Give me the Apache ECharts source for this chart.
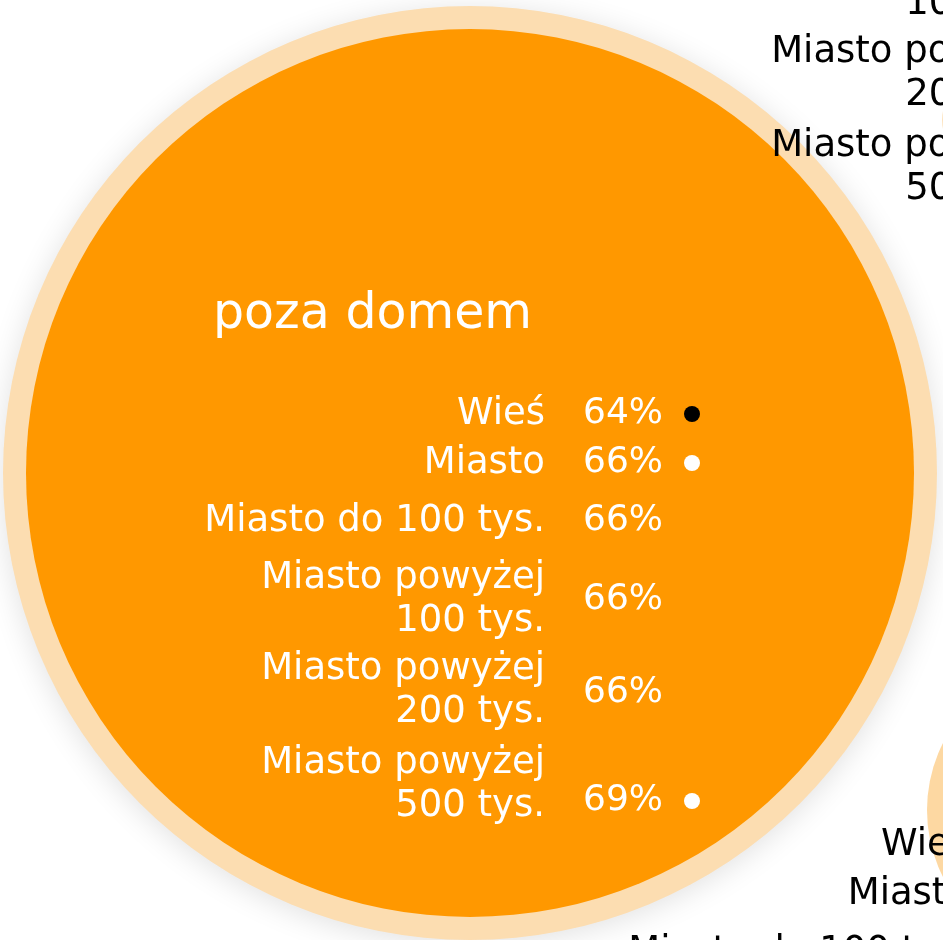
<!DOCTYPE html>
<html>
<head>
<meta charset="utf-8">
<script src="https://cdn.jsdelivr.net/npm/echarts@6/dist/echarts.min.js"></script>
<style>
  html, body { margin: 0; padding: 0; background: #fff; }
  #chart { width: 943px; height: 940px; }
</style>
</head>
<body>
<div id="chart"></div>
<script>
// dane
var title = 'poza domem';
var categories = ['Wieś', 'Miasto', 'Miasto do 100 tys.', 'Miasto powyżej\n100 tys.', 'Miasto powyżej\n200 tys.', 'Miasto powyżej\n500 tys.'];
var values = [64, 66, 66, 66, 66, 69];
var markers = ['dark', 'light', '', '', '', 'light'];
var bubbles = ['poza domem', 'w domu', 'inne'];

// uklad (pozycje wierszy)
var labelY = [414, 463, 521, 600, 691, 785];
var valueY = [414, 463, 521, 600, 693, 801];
var FONT = '"DejaVu Sans", sans-serif';

var myChart = echarts.init(document.getElementById('chart'));

function block(dx, dy, color, withValues) {
	var els = [];
	categories.forEach(function (c, i) {
		els.push({
			type: 'text', x: 545 + dx, y: labelY[i] + dy, z: 10, silent: true,
			style: { text: c, fill: color, fontSize: 37, fontFamily: FONT, lineHeight: 43, align: 'right', verticalAlign: 'middle' }
		});
		if (withValues) {
			var txt = '{v|' + values[i] + '%}' + (markers[i] ? '{' + markers[i] + '|}' : '');
			els.push({
				type: 'text', x: 583 + dx, y: valueY[i] + dy, z: 10, silent: true,
				style: {
					text: txt, align: 'left', verticalAlign: 'middle',
					rich: {
						v: { width: 101, fontSize: 36, fontFamily: FONT, fill: color },
						dark: { width: 16, height: 16, borderRadius: 8, backgroundColor: '#000' },
						light: { width: 16, height: 16, borderRadius: 8, backgroundColor: '#fff' }
					}
				}
			});
		}
	});
	return els;
}

var graphics = [{
	type: 'text', x: 213, y: 315, z: 10, silent: true,
	style: { text: title, fill: '#fff', fontSize: 49, fontFamily: FONT, align: 'left', verticalAlign: 'middle' }
}];
graphics = graphics.concat(block(0, 0, '#fff', true));
graphics = graphics.concat(block(510, -617, '#000', false));
graphics = graphics.concat(block(424, 431, '#000', false));

function bubble(name, center, radius, color, shadow) {
	return {
		type: 'pie', center: center, radius: radius, silent: true, animation: false,
		label: { show: false }, labelLine: { show: false },
		itemStyle: {
			color: color, borderWidth: 0,
			shadowBlur: shadow ? 30 : 0, shadowColor: 'rgba(0,0,0,0.12)', shadowOffsetY: shadow ? 4 : 0
		},
		data: [{ name: name, value: 1 }]
	};
}

var option = {
	animation: false,
	series: [
		bubble(bubbles[0], [470, 473], [0, 467], '#FCDDB1', true),
		bubble(bubbles[0], [470, 473], [0, 444], '#FF9800', false),
		bubble(bubbles[1], [1075, 810], [0, 148], '#FDD8A2', false),
		bubble(bubbles[2], [982, 120], [0, 40], '#FDE3BE', false)
	],
	graphic: graphics
};
myChart.setOption(option);
</script>
</body>
</html>
